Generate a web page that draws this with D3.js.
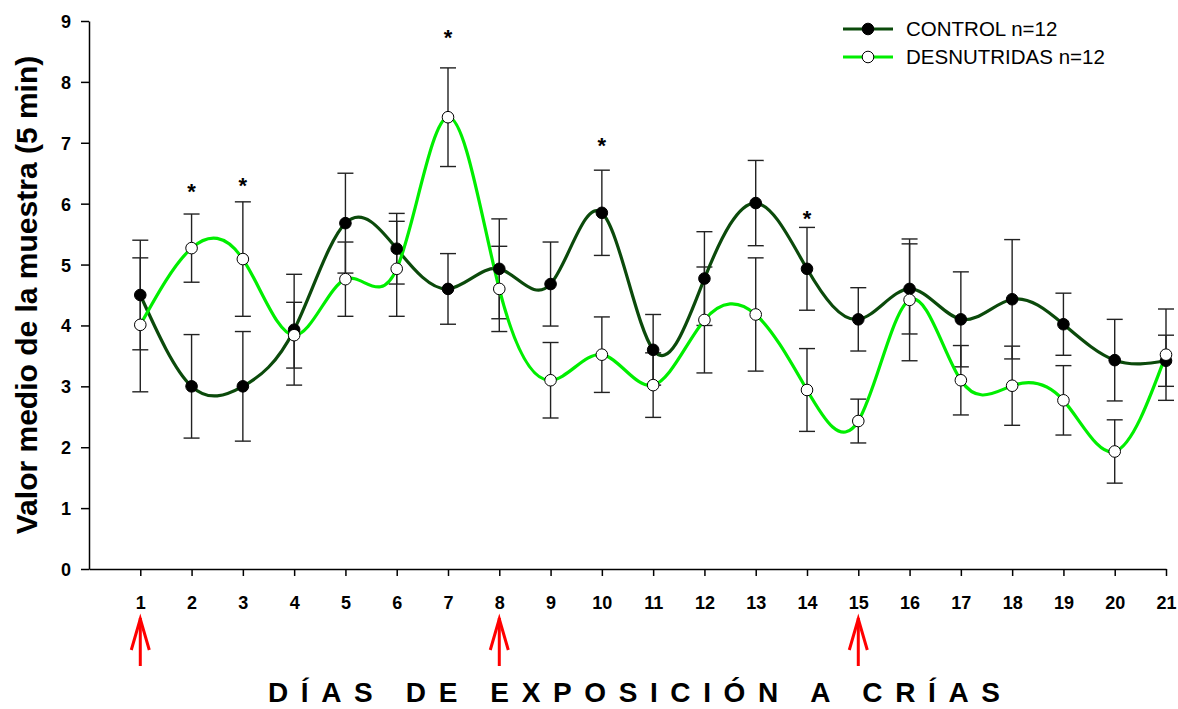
<!DOCTYPE html>
<html>
<head>
<meta charset="utf-8">
<script src="https://cdn.jsdelivr.net/npm/d3@7"></script>
<style>
  body { margin: 0; background: #fff; }
  svg { font-family: Arial, "Liberation Sans", sans-serif; }
  .axis path, .axis line { stroke: #000; stroke-width: 1.5; }
  .axis text { font-size: 18px; font-weight: bold; fill: #000; }
</style>
</head>
<body>
<svg id="chart" width="1178" height="709"></svg>
<script>
var days = d3.range(1, 22);
var controlMean = [4.5, 3.0, 3.0, 3.93, 5.68, 5.26, 4.6, 4.93, 4.68, 5.85, 3.6, 4.77, 6.01, 4.93, 4.1, 4.6, 4.1, 4.43, 4.02, 3.43, 3.42];
var controlErr  = [0.9, 0.85, 0.9, 0.91, 0.82, 0.58, 0.58, 0.82, 0.69, 0.70, 0.58, 0.77, 0.70, 0.68, 0.52, 0.74, 0.78, 0.98, 0.51, 0.67, 0.42];
var desnutMean  = [4.01, 5.27, 5.09, 3.84, 4.76, 4.93, 7.42, 4.6, 3.1, 3.52, 3.02, 4.09, 4.18, 2.94, 2.43, 4.42, 3.1, 3.01, 2.77, 1.93, 3.52];
var desnutErr   = [1.1, 0.56, 0.94, 0.54, 0.61, 0.78, 0.81, 0.70, 0.62, 0.62, 0.53, 0.87, 0.93, 0.68, 0.36, 1.0, 0.57, 0.65, 0.57, 0.52, 0.75];
var starDays    = [2, 3, 7, 10, 14];
var starValues  = [6.29, 6.39, 8.82, 7.04, 5.85];
var arrowDays   = [1, 8, 15];
var yTicks      = d3.range(0, 10);

var svg = d3.select("#chart");

var x = d3.scaleLinear().domain([0, 21]).range([89, 1166]);
var y = d3.scaleLinear().domain([0, 9]).range([569, 21]);

// axes
svg.append("g")
    .attr("class", "axis")
    .attr("transform", "translate(89,0)")
    .call(d3.axisLeft(y).tickValues(yTicks).tickSize(8).tickSizeOuter(0).tickPadding(10))
    .selectAll("text").attr("dy", "0.36em");

var xa = svg.append("g")
    .attr("class", "axis")
    .attr("transform", "translate(0,569)")
    .call(d3.axisBottom(x).tickValues(days).tickSize(7).tickSizeOuter(0).tickPadding(20));
xa.selectAll("text").attr("dy", "0.71em");

svg.selectAll(".axis").attr("font-family", null).attr("font-size", null);

var series = [
  {name: "CONTROL n=12", mean: controlMean, err: controlErr, line: "#0b4a0b", fill: "#000"},
  {name: "DESNUTRIDAS n=12", mean: desnutMean, err: desnutErr, line: "#00ee00", fill: "#fff"}
];

// error bars
series.forEach(function(s) {
  var g = svg.append("g").attr("stroke", "#222").attr("stroke-width", 1.4);
  days.forEach(function(d, i) {
    var hi = y(s.mean[i] + s.err[i]), lo = y(s.mean[i] - s.err[i]), cx = x(d);
    g.append("line").attr("x1", cx).attr("x2", cx).attr("y1", hi).attr("y2", lo);
    g.append("line").attr("x1", cx - 8).attr("x2", cx + 8).attr("y1", hi).attr("y2", hi);
    g.append("line").attr("x1", cx - 8).attr("x2", cx + 8).attr("y1", lo).attr("y2", lo);
  });
});

// smooth lines
var line = d3.line()
    .x(function(d) { return x(d[0]); })
    .y(function(d) { return y(d[1]); })
    .curve(d3.curveNatural);

series.forEach(function(s) {
  svg.append("path")
      .datum(days.map(function(d, i) { return [d, s.mean[i]]; }))
      .attr("fill", "none")
      .attr("stroke", s.line)
      .attr("stroke-width", 3.2)
      .attr("d", line);
});

series.forEach(function(s) {
  svg.append("g").selectAll("circle")
      .data(days)
      .enter().append("circle")
      .attr("cx", function(d) { return x(d); })
      .attr("cy", function(d, i) { return y(s.mean[i]); })
      .attr("r", 5.8)
      .attr("fill", s.fill)
      .attr("stroke", "#000")
      .attr("stroke-width", 1);
});

// significance stars
svg.append("g").selectAll("text")
    .data(starDays)
    .enter().append("text")
    .attr("x", function(d) { return x(d); })
    .attr("y", function(d, i) { return y(starValues[i]) + 13; })
    .attr("text-anchor", "middle")
    .attr("font-size", "22px")
    .attr("font-weight", "bold")
    .text("*");

// red arrows under the axis
var arrows = svg.append("g").attr("stroke", "#ff0000").attr("stroke-width", 3).attr("fill", "none");
arrowDays.forEach(function(d) {
  var cx = x(d);
  arrows.append("line").attr("x1", cx).attr("x2", cx).attr("y1", 618).attr("y2", 666);
  arrows.append("path").attr("d", "M" + (cx - 9) + ",650L" + cx + ",619L" + (cx + 9) + ",650");
});

// axis titles
svg.append("text")
    .attr("transform", "translate(37,295) rotate(-90)")
    .attr("text-anchor", "middle")
    .attr("font-size", "30px")
    .attr("font-weight", "bold")
    .text("Valor medio de la muestra (5 min)");

svg.append("text")
    .attr("x", 268)
    .attr("y", 702)
    .attr("textLength", 732)
    .attr("lengthAdjust", "spacing")
    .attr("font-size", "28px")
    .attr("font-weight", "bold")
    .text("DÍAS DE EXPOSICIÓN A CRÍAS");

// legend
var legend = svg.append("g");
series.forEach(function(s, i) {
  var ly = 29 + i * 28;
  legend.append("line").attr("x1", 843).attr("x2", 893).attr("y1", ly).attr("y2", ly)
      .attr("stroke", s.line).attr("stroke-width", 3);
  legend.append("circle").attr("cx", 868).attr("cy", ly).attr("r", 5.8)
      .attr("fill", s.fill).attr("stroke", "#000").attr("stroke-width", 1);
  legend.append("text").attr("x", 906).attr("y", ly + 7)
      .attr("font-size", "20.5px").text(s.name);
});
</script>
</body>
</html>
